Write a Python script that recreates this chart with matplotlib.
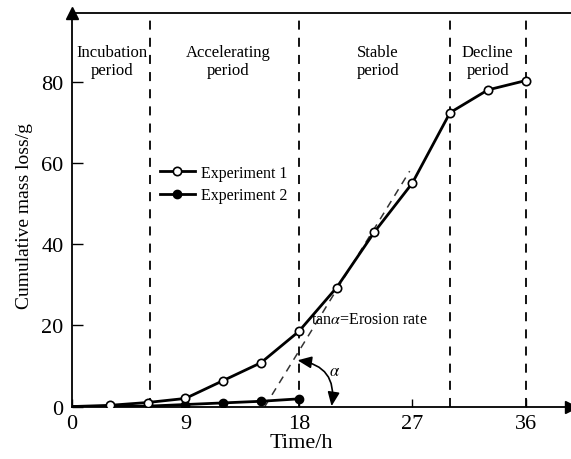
import matplotlib
matplotlib.use("Agg")
import matplotlib.pyplot as plt
from matplotlib.patches import FancyArrowPatch

plt.rcParams['font.family'] = ['Liberation Serif', 'DejaVu Serif']
plt.rcParams['mathtext.fontset'] = 'stix'

# Data
time1 = [0, 3, 6, 9, 12, 15, 18, 21, 24, 27, 30, 33, 36]
exp1 = [0, 0.3, 1.0, 2.0, 6.4, 10.8, 18.5, 29.3, 43.0, 55.0, 72.4, 78.0, 80.3]
time2 = [0, 3, 6, 9, 12, 15, 18]
exp2 = [0, 0.0, 0.1, 0.5, 0.9, 1.3, 1.9]
tangent_t = [15.3, 26.8]
tangent_v = [0, 58]
period_bounds = [6.2, 18, 30, 36]
period_labels = ["Incubation\nperiod", "Accelerating\nperiod", "Stable\nperiod", "Decline\nperiod"]
period_centers = [3.2, 12.4, 24.3, 33.0]
xticks = [0, 9, 18, 27, 36]
yticks = [0, 20, 40, 60, 80]

fig = plt.figure(figsize=(5.71, 4.60), dpi=100)
ax = fig.add_axes([0.126, 0.114, 0.874, 0.856])
ax.set_xlim(0, 39.6)
ax.set_ylim(0, 97)

for b in period_bounds:
    ax.plot([b, b], [0, 95.5], color='black', lw=1.3, dashes=(5, 4.5))

ax.plot(tangent_t, tangent_v, color='#333333', lw=1.1, dashes=(5, 4))

ax.plot(time1, exp1, color='black', lw=2, marker='o', ms=6,
        mfc='white', mec='black', mew=1.2, markevery=list(range(1, len(time1))),
        label='Experiment 1', zorder=4)
ax.plot(time2, exp2, color='black', lw=2, marker='o', ms=6,
        mfc='black', mec='black', markevery=list(range(3, len(time2))),
        label='Experiment 2', zorder=3)

for c, lab in zip(period_centers, period_labels):
    ax.text(c, 85.2, lab, ha='center', va='center', fontsize=12, linespacing=1.15)

ax.text(19.0, 21.5, r'tan$\alpha$=Erosion rate', fontsize=11.5, va='center', ha='left')
ax.text(20.4, 8.7, r'$\alpha$', fontsize=12, ha='left', va='center')
arr = FancyArrowPatch((17.9, 11.4), (20.6, 0.1),
                      arrowstyle='<|-|>,head_length=0.7,head_width=0.3',
                      mutation_scale=12, color='black', lw=1.2,
                      connectionstyle='arc3,rad=-0.5', shrinkA=0, shrinkB=0)
ax.add_patch(arr)

leg = ax.legend(loc='upper left', bbox_to_anchor=(0.163, 0.63), frameon=False,
                fontsize=11.5, handlelength=2.2, handletextpad=0.4,
                labelspacing=0.4, borderaxespad=0)

ax.set_xticks(xticks)
ax.set_yticks(yticks)
ax.tick_params(direction='in', labelsize=16, length=6, width=1, pad=5)
ax.tick_params(axis='y', length=8, pad=6)
ax.set_xlabel('Time/h', fontsize=16, labelpad=0)
ax.xaxis.set_label_coords(0.459, -0.068, transform=ax.transAxes)
ax.xaxis.label.set_va('top')
ax.set_ylabel('Cumulative mass loss/g', fontsize=14)
ax.yaxis.set_label_coords(-0.078, 0.487, transform=ax.transAxes)

ax.spines['right'].set_visible(False)
for s in ['left', 'bottom', 'top']:
    ax.spines[s].set_linewidth(1.3)

ax.plot(1, 0, '>k', ms=8, transform=ax.transAxes, clip_on=False)
ax.plot(0, 1, '^k', ms=8, transform=ax.transAxes, clip_on=False)

fig.savefig('out.png', dpi=100)
